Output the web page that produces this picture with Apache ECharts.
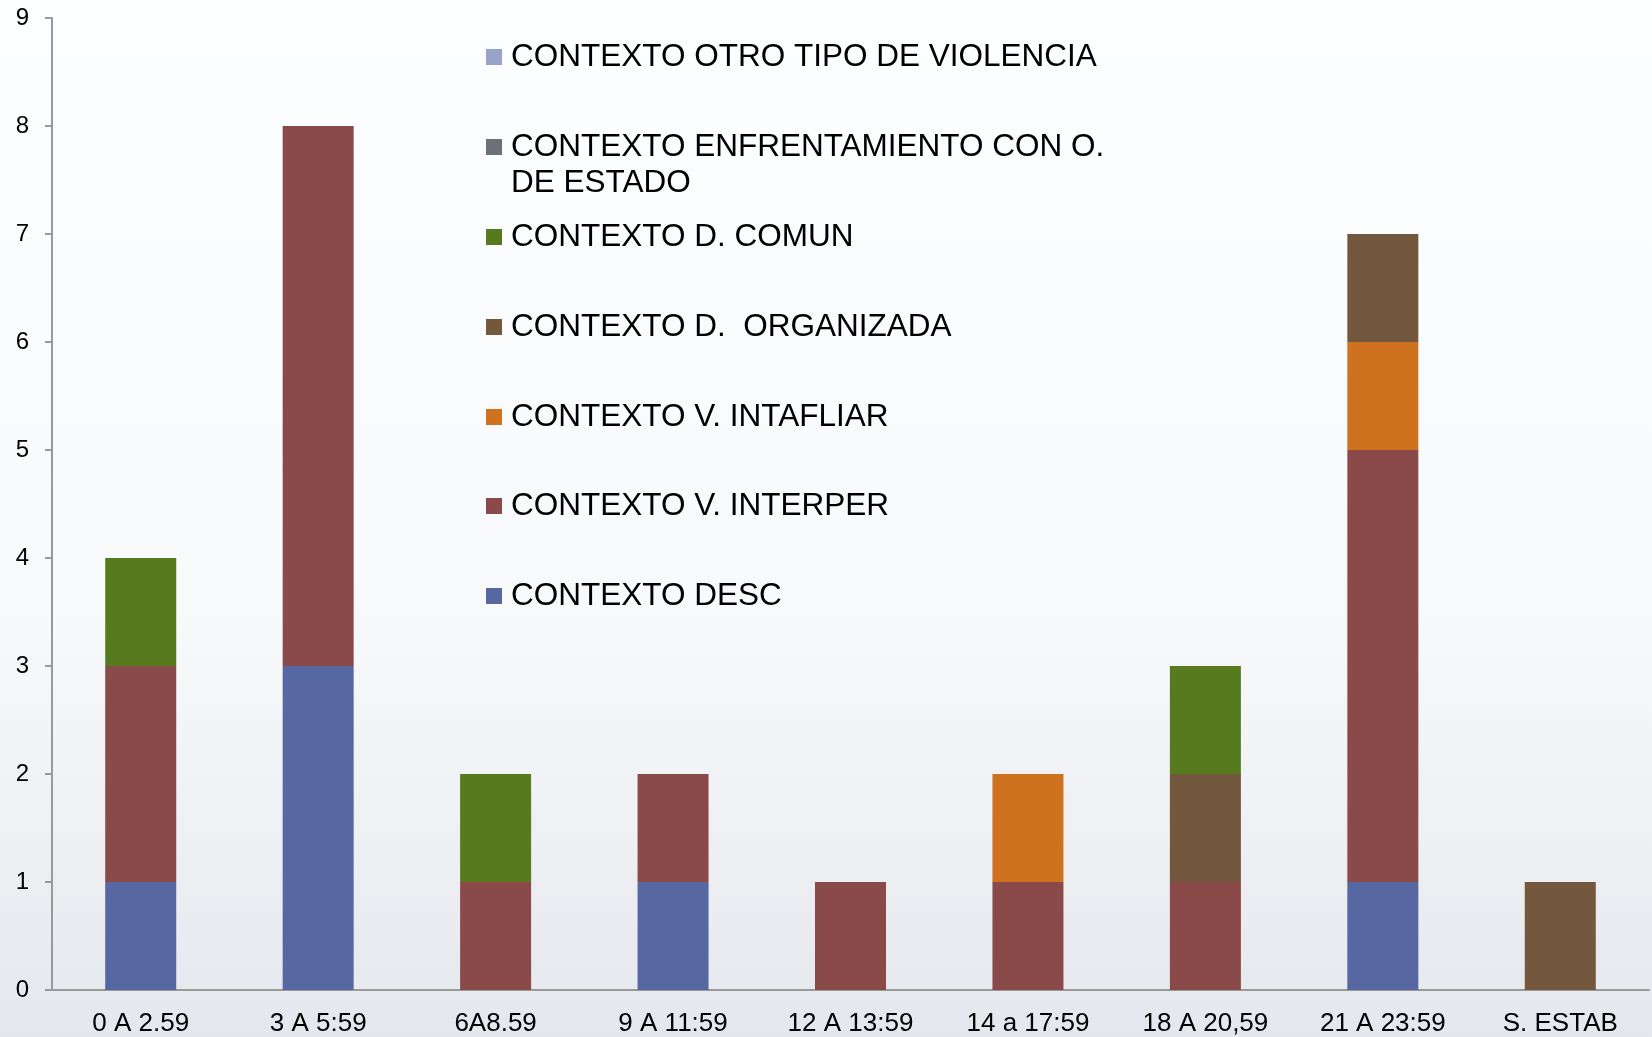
<!DOCTYPE html>
<html>
<head>
<meta charset="utf-8">
<script src="https://cdn.jsdelivr.net/npm/echarts@6/dist/echarts.min.js"></script>
<style>
  html, body { margin: 0; padding: 0; }
  #main { width: 1652px; height: 1037px; }
</style>
</head>
<body>
<div id="main"></div>
<script>
// franjas horarias
var categories = ["0 A 2.59", "3 A 5:59", "6A8.59", "9 A 11:59", "12 A 13:59", "14 a 17:59", "18 A 20,59", "21 A 23:59", "S. ESTAB"];

// series, de abajo hacia arriba en la pila
var desc       = [1, 3, 0, 1, 0, 0, 0, 1, 0];
var interper   = [2, 5, 1, 1, 1, 1, 1, 4, 0];
var intafliar  = [0, 0, 0, 0, 0, 1, 0, 1, 0];
var organizada = [0, 0, 0, 0, 0, 0, 1, 1, 1];
var comun      = [1, 0, 1, 0, 0, 0, 1, 0, 0];
var enfrent    = [0, 0, 0, 0, 0, 0, 0, 0, 0];
var otro       = [0, 0, 0, 0, 0, 0, 0, 0, 0];

var yTicks = [0, 1, 2, 3, 4, 5, 6, 7, 8, 9];

var names = [
  "CONTEXTO DESC",
  "CONTEXTO V. INTERPER",
  "CONTEXTO V. INTAFLIAR",
  "CONTEXTO D.  ORGANIZADA",
  "CONTEXTO D. COMUN",
  "CONTEXTO ENFRENTAMIENTO CON O. DE ESTADO",
  "CONTEXTO OTRO TIPO DE VIOLENCIA"
];
var values = [desc, interper, intafliar, organizada, comun, enfrent, otro];
var colors = ["#5667a1", "#8b4a4a", "#ce7220", "#73583d", "#587a1e", "#6b7176", "#99a3ca"];

var myChart = echarts.init(document.getElementById("main"));

var series = [];
for (var i = 0; i < names.length; i++) {
  series.push({
    name: names[i],
    type: "bar",
    stack: "total",
    barWidth: 71,
    data: values[i].map(function (v) { return v === 0 ? null : v; }),
    itemStyle: { color: colors[i] }
  });
}

// una leyenda por entrada, de arriba (OTRO) hacia abajo (DESC)
var legendTops = [580, 490, 401, 311, 221, 131, 41];
var legends = [];
for (var i = 0; i < names.length; i++) {
  legends.push({
    left: 486,
    top: legendTops[i],
    padding: 0,
    orient: "vertical",
    itemWidth: 16,
    itemHeight: 16,
    icon: "rect",
    data: [names[i]],
    formatter: function (n) {
      return n === "CONTEXTO ENFRENTAMIENTO CON O. DE ESTADO" ? "CONTEXTO ENFRENTAMIENTO CON O." : n;
    },
    textStyle: {
      color: "#000",
      fontSize: 31.5,
      lineHeight: 32,
      padding: [0, 0, 0, 4],
      fontFamily: "Liberation Sans, Arial, sans-serif"
    }
  });
}

var option = {
  animation: false,
  backgroundColor: {
    type: "linear", x: 0, y: 0, x2: 0, y2: 1,
    colorStops: [
      { offset: 0, color: "#fdfeff" },
      { offset: 0.6, color: "#f8f9fb" },
      { offset: 1, color: "#e4e7ec" }
    ]
  },
  grid: { left: 52, right: 3, top: 18, bottom: 47, containLabel: false },
  legend: legends,
  graphic: [{
    type: "text",
    left: 511,
    top: 167,
    style: {
      text: "DE ESTADO",
      fill: "#000",
      fontSize: 31.5,
      fontFamily: "Liberation Sans, Arial, sans-serif"
    }
  }],
  xAxis: {
    type: "category",
    data: categories,
    axisLine: { lineStyle: { color: "#999", width: 2 } },
    axisTick: { length: 7, lineStyle: { color: "#999", width: 2 } },
    axisLabel: {
      color: "#000",
      fontSize: 26,
      margin: 21,
      fontFamily: "Liberation Sans, Arial, sans-serif"
    }
  },
  yAxis: {
    type: "value",
    min: yTicks[0],
    max: yTicks[yTicks.length - 1],
    interval: 1,
    axisLine: { show: true, lineStyle: { color: "#999", width: 2 } },
    axisTick: { show: true, length: 7, lineStyle: { color: "#999", width: 2 } },
    splitLine: { show: false },
    axisLabel: {
      color: "#000",
      fontSize: 24,
      margin: 23,
      fontFamily: "Liberation Sans, Arial, sans-serif"
    }
  },
  series: series
};

myChart.setOption(option);
</script>
</body>
</html>
